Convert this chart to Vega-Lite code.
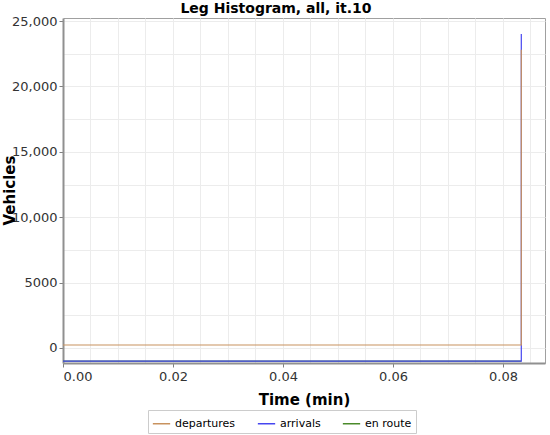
{
  "$schema": "https://vega.github.io/schema/vega-lite/v6.json",
  "autosize": "none",
  "width": 482,
  "height": 345,
  "padding": {"left": 63, "top": 18, "right": 5, "bottom": 72},
  "background": "white",
  "title": {"text": "Leg Histogram, all, it.10", "font": "DejaVu Sans", "fontSize": 14, "fontWeight": "bold", "color": "#000000", "dx": -28, "offset": -1},
  "config": {
    "view": {"stroke": "#a0a0a0", "strokeWidth": 1},
    "axis": {"labelFont": "DejaVu Sans", "labelFontSize": 13, "labelColor": "#333333", "titleFont": "DejaVu Sans", "titleFontSize": 15, "titleFontWeight": "bold", "titleColor": "#000000", "gridColor": "#ececec", "gridWidth": 1, "domainColor": "#909090", "domainWidth": 2, "tickColor": "#808080"}
  },
  "data": {"values": [
    {"series": "en route", "t": 0, "v": -1000, "o": 1},
    {"series": "en route", "t": 0.08333, "v": -1000, "o": 2},
    {"series": "arrivals", "t": 0, "v": -1000, "o": 1},
    {"series": "arrivals", "t": 0.08333, "v": -1000, "o": 2},
    {"series": "arrivals", "t": 0.08333, "v": 24000, "o": 3},
    {"series": "departures", "t": 0, "v": 230, "o": 1},
    {"series": "departures", "t": 0.08333, "v": 230, "o": 2},
    {"series": "departures", "t": 0.08333, "v": 22800, "o": 3}
  ]},
  "mark": {"type": "line", "strokeWidth": 1.2, "clip": true},
  "encoding": {
    "x": {"field": "t", "type": "quantitative", "title": "Time (min)",
      "scale": {"domain": [0, 0.08764], "nice": false, "zero": false},
      "axis": {"values": [0, 0.005, 0.01, 0.015, 0.02, 0.025, 0.03, 0.035, 0.04, 0.045, 0.05, 0.055, 0.06, 0.065, 0.07, 0.075, 0.08, 0.085],
        "labelExpr": "abs(datum.value*50 - round(datum.value*50)) < 0.001 ? format(datum.value, '.2f') : ''",
        "tickOpacity": {"condition": {"test": "abs(datum.value*50 - round(datum.value*50)) < 0.001", "value": 1}, "value": 0},
        "titlePadding": 9, "labelPadding": 3, "tickSize": 4}},
    "y": {"field": "v", "type": "quantitative", "title": "Vehicles",
      "scale": {"domain": [-1147, 25230], "nice": false, "zero": false},
      "axis": {"values": [0, 2500, 5000, 7500, 10000, 12500, 15000, 17500, 20000, 22500, 25000],
        "labelExpr": "datum.value % 5000 == 0 ? (datum.value >= 10000 ? format(datum.value, ',') : format(datum.value, 'd')) : ''",
        "tickOpacity": {"condition": {"test": "datum.value % 5000 == 0", "value": 1}, "value": 0},
        "titleX": -54, "titleY": 172, "titleAngle": -90, "titleAlign": "center", "titleBaseline": "middle", "tickSize": 4}},
    "color": {"field": "series", "type": "nominal",
      "scale": {"domain": ["departures", "arrivals", "en route"], "range": ["#c8925e", "#4646f0", "#4a8a2a"]},
      "legend": {"title": null, "orient": "none", "legendX": 85, "legendY": 392, "direction": "horizontal", "symbolType": "stroke", "symbolSize": 300, "symbolStrokeWidth": 1.5, "labelFont": "DejaVu Sans", "labelFontSize": 11, "labelColor": "#000000", "strokeColor": "#cccccc", "padding": 4, "columnPadding": 18}},
    "order": {"field": "o", "type": "quantitative"}
  }
}
